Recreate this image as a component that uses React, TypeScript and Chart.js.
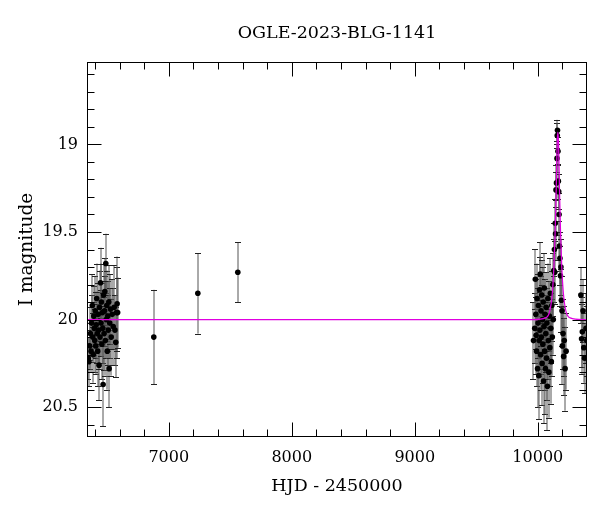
import React, { useEffect, useRef } from "react";
import { Chart, registerables } from "chart.js";

Chart.register(...registerables);

const TITLE = "OGLE-2023-BLG-1141";
const X_LABEL = "HJD - 2450000";
const Y_LABEL = "I magnitude";
const FONT = "'DejaVu Serif', serif";

const X_MIN = 6335;
const X_MAX = 10400;
const Y_MIN = 18.53;
const Y_MAX = 20.67;

const xMajorTicks = [7000, 8000, 9000, 10000];
const xMinorTicks = [6400, 6600, 6800, 7200, 7400, 7600, 7800, 8200, 8400, 8600, 8800, 9200, 9400, 9600, 9800, 10200, 10400];
const yMajorTicks = [19, 19.5, 20, 20.5];
const yMinorTicks = [18.6, 18.7, 18.8, 18.9, 19.1, 19.2, 19.3, 19.4, 19.6, 19.7, 19.8, 19.9, 20.1, 20.2, 20.3, 20.4, 20.6];

// observations: HJD-2450000, I mag, error
const obsDays = [
  6345, 6350, 6356, 6362, 6368, 6372, 6378, 6382, 6386, 6390, 6394, 6398, 6402, 6406, 6410, 6414, 6418, 6422,
  6426, 6430, 6433, 6437, 6441, 6445, 6449, 6452, 6456, 6460, 6463, 6466, 6470, 6474, 6478, 6480, 6484, 6488,
  6492, 6496, 6500, 6504, 6508, 6512, 6515, 6520, 6526, 6532, 6540, 6548, 6556, 6562, 6569, 6575, 6580, 6584,
  6878, 7236, 7561,
  9965, 9975, 9980, 9984, 9986, 9990, 9994, 9998, 10002, 10005, 10008, 10011, 10014, 10017, 10020, 10023, 10026,
  10029, 10032, 10035, 10038, 10041, 10044, 10047, 10050, 10053, 10056, 10059, 10062, 10065, 10068, 10071, 10074,
  10078, 10082, 10086, 10090, 10094, 10098, 10102, 10106, 10110, 10114, 10118, 10122, 10126,
  10130, 10135, 10138, 10142, 10144, 10148, 10152, 10156, 10158, 10160, 10164, 10167, 10170, 10173, 10176, 10180,
  10184, 10188, 10192, 10197, 10200, 10205, 10210, 10215, 10222, 10230,
  10350, 10356, 10362, 10368, 10374, 10380, 10392, 10398,
];
const obsMags = [
  20.22, 20.24, 20.15, 20.08, 20.18, 20.02, 19.92, 20.10, 20.20, 19.98, 20.05, 20.12, 19.95, 20.15, 20.03, 19.88, 20.08, 20.18,
  19.97, 20.06, 20.26, 19.93, 20.10, 19.79, 20.02, 19.90, 20.14, 19.96, 20.05, 20.37, 19.86, 20.08, 19.95, 19.84, 20.12, 19.68,
  20.00, 19.92, 20.18, 19.98, 20.06, 19.90, 20.28, 20.02, 19.94, 20.10, 19.97, 20.04, 19.93, 20.06, 20.13, 19.96, 19.91, 19.96,
  20.10, 19.85, 19.73,
  20.12, 20.05, 19.77, 19.97, 20.09, 20.18, 19.88, 20.28, 20.02, 19.92, 20.32, 20.12, 19.83, 20.06, 19.74, 20.20, 19.95,
  20.10, 19.86, 20.25, 20.00, 20.14, 19.90, 20.35, 20.04, 19.82, 20.18, 19.97, 20.28, 20.08, 19.93, 20.22, 20.02,
  20.38, 19.88, 20.12, 20.30, 19.98, 20.16, 19.85, 20.05, 20.24, 19.92, 20.10, 19.80, 20.00,
  19.72, 19.60, 19.73, 19.45, 19.51, 19.26, 19.22, 19.08, 18.95, 18.92, 19.04, 19.21, 19.27, 19.40, 19.58, 19.65,
  19.75, 19.70, 19.89, 19.95, 20.15, 20.08, 20.21, 20.12, 20.28, 20.18,
  19.86, 20.11, 20.07, 19.95, 20.16, 20.22, 20.05, 20.12,
];
const obsErrs = [
  0.12, 0.14, 0.13, 0.15, 0.12, 0.16, 0.18, 0.14, 0.16, 0.17, 0.15, 0.18, 0.20, 0.16, 0.19, 0.20, 0.17, 0.20,
  0.18, 0.22, 0.20, 0.21, 0.18, 0.20, 0.19, 0.22, 0.20, 0.17, 0.20, 0.24, 0.18, 0.21, 0.20, 0.19, 0.20, 0.17,
  0.22, 0.20, 0.22, 0.20, 0.20, 0.21, 0.22, 0.20, 0.20, 0.22, 0.20, 0.22, 0.24, 0.20, 0.20, 0.26, 0.27, 0.20,
  0.27, 0.23, 0.17,
  0.22, 0.20, 0.17, 0.20, 0.22, 0.20, 0.20, 0.22, 0.20, 0.18, 0.25, 0.20, 0.19, 0.22, 0.18, 0.20, 0.20,
  0.21, 0.20, 0.24, 0.20, 0.22, 0.20, 0.24, 0.22, 0.20, 0.22, 0.20, 0.26, 0.22, 0.20, 0.24, 0.20,
  0.25, 0.20, 0.22, 0.26, 0.20, 0.22, 0.20, 0.20, 0.24, 0.20, 0.22, 0.18, 0.20,
  0.18, 0.15, 0.18, 0.14, 0.15, 0.10, 0.10, 0.08, 0.07, 0.06, 0.08, 0.10, 0.10, 0.12, 0.14, 0.15,
  0.17, 0.16, 0.18, 0.20, 0.22, 0.20, 0.22, 0.20, 0.24, 0.22,
  0.16, 0.20, 0.20, 0.18, 0.20, 0.20, 0.20, 0.20,
];

// model light curve
const modelDays = [6335, 9963, 10063, 10098, 10118, 10131, 10141, 10150, 10157, 10163, 10169, 10176, 10185, 10195, 10208, 10228, 10263, 10363, 10400];
const modelMags = [20.0, 20.0, 19.99, 19.95, 19.85, 19.7, 19.5, 19.25, 19.0, 18.93, 19.0, 19.25, 19.5, 19.7, 19.85, 19.95, 19.99, 20.0, 20.0];

const errorBars = {
  id: "errorBars",
  beforeDatasetsDraw(chart: any) {
    const { ctx, chartArea: a, scales } = chart;
    const xs = scales.x;
    const ys = scales.y;
    ctx.save();
    ctx.beginPath();
    ctx.rect(a.left, a.top, a.right - a.left, a.bottom - a.top);
    ctx.clip();
    ctx.lineWidth = 1;
    for (let i = 0; i < obsDays.length; i++) {
      const px = Math.round(xs.getPixelForValue(obsDays[i]));
      const y1 = ys.getPixelForValue(obsMags[i] - obsErrs[i]);
      const y2 = ys.getPixelForValue(obsMags[i] + obsErrs[i]);
      ctx.strokeStyle = "#555";
      ctx.beginPath();
      ctx.moveTo(px, y1);
      ctx.lineTo(px, y2);
      ctx.stroke();
      ctx.strokeStyle = "#222";
      ctx.beginPath();
      const c1 = Math.round(y1) + 0.5;
      const c2 = Math.round(y2) + 0.5;
      ctx.moveTo(px - 3, c1);
      ctx.lineTo(px + 3, c1);
      ctx.moveTo(px - 3, c2);
      ctx.lineTo(px + 3, c2);
      ctx.stroke();
    }
    ctx.restore();
  },
};

const frameTicks = {
  id: "frameTicks",
  afterDatasetsDraw(chart: any) {
    const { ctx, chartArea: a, scales } = chart;
    const xs = scales.x;
    const ys = scales.y;
    const L = Math.round(a.left) + 0.5;
    const R = Math.round(a.right) - 0.5;
    const T = Math.round(a.top) + 0.5;
    const B = Math.round(a.bottom) - 0.5;
    ctx.save();
    ctx.strokeStyle = "#000";
    ctx.lineWidth = 1;
    ctx.strokeRect(L, T, R - L, B - T);
    const MAJ = 14;
    const MIN = 7;
    ctx.beginPath();
    const xt = (vals: number[], len: number) => {
      vals.forEach((v) => {
        const p = Math.round(xs.getPixelForValue(v)) + 0.5;
        if (p < L || p > R + 0.6) return;
        ctx.moveTo(p, B);
        ctx.lineTo(p, B - len);
        ctx.moveTo(p, T);
        ctx.lineTo(p, T + len);
      });
    };
    const yt = (vals: number[], len: number) => {
      vals.forEach((v) => {
        const p = Math.round(ys.getPixelForValue(v)) + 0.5;
        if (p < T || p > B) return;
        ctx.moveTo(L, p);
        ctx.lineTo(L + len, p);
        ctx.moveTo(R, p);
        ctx.lineTo(R - len, p);
      });
    };
    xt(xMajorTicks, MAJ);
    xt(xMinorTicks, MIN);
    yt(yMajorTicks, MAJ);
    yt(yMinorTicks, MIN);
    ctx.stroke();
    ctx.fillStyle = "#000";
    ctx.font = `17.5px ${FONT}`;
    ctx.textAlign = "center";
    ctx.textBaseline = "middle";
    ctx.fillText(TITLE, (a.left + a.right) / 2, 33);
    ctx.restore();
  },
};

export default function App() {
  const ref = useRef<HTMLCanvasElement | null>(null);
  useEffect(() => {
    if (!ref.current) return;
    const chart = new Chart(ref.current, {
      type: "scatter",
      data: {
        datasets: [
          {
            type: "line",
            data: modelDays.map((d, i) => ({ x: d, y: modelMags[i] })),
            borderColor: "#e000e0",
            borderWidth: 1.2,
            pointRadius: 0,
            cubicInterpolationMode: "monotone",
            fill: false,
          } as any,
          {
            type: "scatter",
            data: obsDays.map((d, i) => ({ x: d, y: obsMags[i] })),
            backgroundColor: "#000",
            borderWidth: 0,
            pointRadius: 2.8,
          } as any,
        ],
      },
      options: {
        responsive: false,
        animation: false,
        devicePixelRatio: 1,
        layout: { padding: { left: 0, right: 13, top: 62, bottom: 0 } },
        plugins: {
          legend: { display: false },
          tooltip: { enabled: false },
          title: { display: false },
        },
        scales: {
          x: {
            type: "linear",
            min: X_MIN,
            max: X_MAX,
            grid: { display: false, drawTicks: false },
            border: { display: false },
            afterBuildTicks: (s: any) => {
              s.ticks = xMajorTicks.map((v) => ({ value: v }));
            },
            afterFit: (s: any) => {
              s.height = 75;
            },
            ticks: {
              color: "#000",
              font: { family: FONT, size: 16 },
              padding: 11,
              maxRotation: 0,
              autoSkip: false,
              callback: (v: any) => String(v),
            },
            title: {
              display: true,
              text: X_LABEL,
              color: "#000",
              font: { family: FONT, size: 17.5 },
              padding: { top: 0, bottom: 15 },
            },
          },
          y: {
            type: "linear",
            reverse: true,
            min: Y_MIN,
            max: Y_MAX,
            grid: { display: false, drawTicks: false },
            border: { display: false },
            afterBuildTicks: (s: any) => {
              s.ticks = yMajorTicks.map((v) => ({ value: v }));
            },
            afterFit: (s: any) => {
              s.width = 87;
            },
            ticks: {
              color: "#000",
              font: { family: FONT, size: 16 },
              padding: 9,
              autoSkip: false,
              callback: (v: any) => String(v),
            },
            title: {
              display: true,
              text: Y_LABEL,
              color: "#000",
              font: { family: FONT, size: 18.5 },
              padding: { top: 16, bottom: 0 },
            },
          },
        },
      } as any,
      plugins: [errorBars, frameTicks],
    });
    return () => chart.destroy();
  }, []);
  return (
    <div style={{ position: "fixed", left: 0, top: 0, width: 600, height: 512, background: "#fff" }}>
      <canvas ref={ref} width={600} height={512} style={{ width: 600, height: 512 }} />
    </div>
  );
}
